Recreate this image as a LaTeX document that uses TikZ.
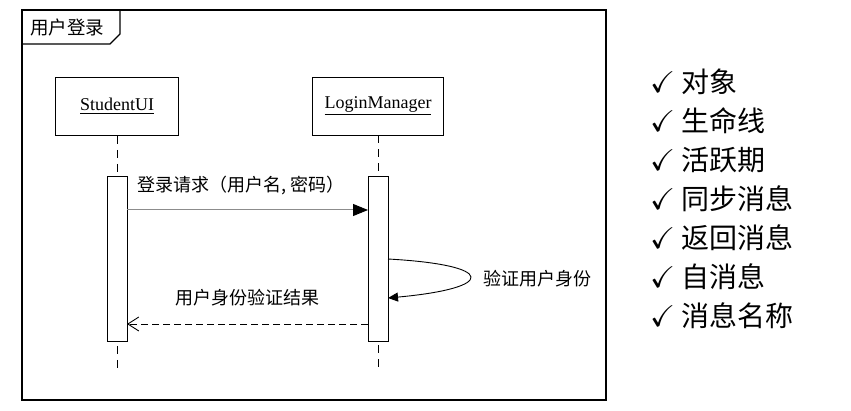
\documentclass[tikz,border=0pt]{standalone}
\usepackage{amssymb}
\usepackage{fontspec}
\setmainfont{Liberation Serif}
\newfontfamily\cjk{Noto Sans CJK SC}
\usetikzlibrary{positioning, arrows.meta}
\tikzset{
  objbox/.style={rectangle, draw=black, line width=0.9pt, fill=white,
                 minimum width=123pt, minimum height=58pt, inner sep=0pt,
                 align=center, font=\fontsize{18}{20}\selectfont},
  actbar/.style={rectangle, draw=black, line width=0.9pt, fill=white,
                 minimum width=20pt, minimum height=165pt, inner sep=0pt},
  lifeline/.style={draw=black, line width=0.9pt, dash pattern=on 8pt off 6pt},
  msglabel/.style={font=\cjk\fontsize{18}{20}\selectfont, inner sep=0pt},
  syncarr/.style={-{Triangle[length=15pt, width=12pt, color=black]},
                  draw=black!45, line width=1pt},
  selfarr/.style={-{Triangle[length=10pt, width=9pt]}, draw=black, line width=0.9pt},
  retarr/.style={-{Straight Barb[length=11pt, width=14pt]}, draw=black,
                 line width=0.9pt, dash pattern=on 7pt off 4pt},
  legenditem/.style={anchor=west, inner sep=0pt, minimum height=38.5pt,
                     font=\cjk\fontsize{28}{30}\selectfont},
}
\newcommand{\tick}{{\fontsize{30}{32}\selectfont$\checkmark$}\hspace{6pt}}

\begin{document}
\begin{tikzpicture}[x=1pt, y=-1pt]

  \useasboundingbox (0,0) rectangle (851,411);

  % frame and title tab
  \draw[line width=1.3pt] (22,10) rectangle (606,400);
  \node[anchor=west, inner sep=0pt, font=\cjk\fontsize{18.5}{20}\selectfont] (title) at (30,27) {用户登录};
  \draw[line width=1.3pt] (22,44) -- (110,44) -- (120,34) -- (120,10);

  % objects
  \node[objbox] (stu) at (117,106.5) {\underline{StudentUI}};
  \node[objbox, minimum width=131pt] (mgr) at (378,106) {\underline{LoginManager}};

  % lifelines
  \coordinate (stuend) at (117,370);
  \coordinate (mgrend) at (378,370);
  \draw[lifeline] (stu.south) -- (stuend);
  \draw[lifeline] (mgr.south) -- (mgrend);

  % activations
  \node[actbar] (stuact) at (117,259) {};
  \node[actbar] (mgract) at (378,259) {};

  % messages
  \coordinate (req1) at (127,210);
  \coordinate (req2) at (368,210);
  \draw[syncarr] (req1) -- (req2);
  \node[msglabel] (reqlbl) at (241,186) {登录请求（用户名, 密码）};

  \coordinate (self1) at (388,259);
  \coordinate (self2) at (388,298);
  \draw[selfarr] (self1) .. controls (497,265) and (497,288) .. (self2);
  \node[msglabel, anchor=west] (selflbl) at (483,279) {验证用户身份};

  \coordinate (ret1) at (368,324);
  \coordinate (ret2) at (127,324);
  \draw[retarr] (ret1) -- (ret2);
  \node[msglabel] (retlbl) at (247.5,298) {用户身份验证结果};

  % legend
  \node[legenditem] (l1) at (650,82) {\tick 对象};
  \node[legenditem, below=0pt of l1.south west, anchor=north west] (l2) {\tick 生命线};
  \node[legenditem, below=0pt of l2.south west, anchor=north west] (l3) {\tick 活跃期};
  \node[legenditem, below=0pt of l3.south west, anchor=north west] (l4) {\tick 同步消息};
  \node[legenditem, below=0pt of l4.south west, anchor=north west] (l5) {\tick 返回消息};
  \node[legenditem, below=0pt of l5.south west, anchor=north west] (l6) {\tick 自消息};
  \node[legenditem, below=0pt of l6.south west, anchor=north west] (l7) {\tick 消息名称};

\end{tikzpicture}
\end{document}
